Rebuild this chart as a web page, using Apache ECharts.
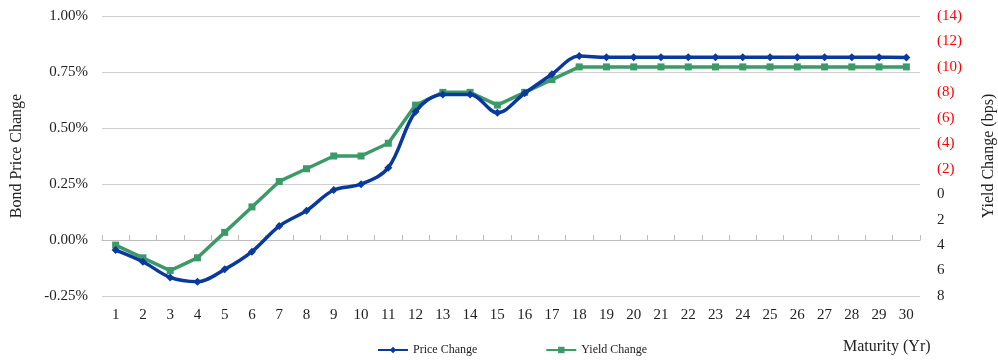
<!DOCTYPE html>
<html>
<head>
<meta charset="utf-8">
<script src="https://cdn.jsdelivr.net/npm/echarts@6/dist/echarts.min.js"></script>
<style>
  html, body { margin: 0; padding: 0; background: #fff; }
  #chart { width: 998px; height: 360px; }
</style>
</head>
<body>
<div id="chart"></div>
<script>
// Maturities (years)
const maturities = ['1','2','3','4','5','6','7','8','9','10','11','12','13','14','15','16','17','18','19','20','21','22','23','24','25','26','27','28','29','30'];

// Bond price change, in percent
const priceChange = [-0.045, -0.097, -0.167, -0.186, -0.131, -0.052, 0.062, 0.131, 0.223, 0.249, 0.323,
  0.573, 0.650, 0.650, 0.568, 0.655, 0.740, 0.821, 0.816, 0.816, 0.816, 0.816, 0.816, 0.816, 0.816,
  0.816, 0.816, 0.816, 0.816, 0.815];

// Yield change, in basis points (negative = yield down)
const yieldChange = [4, 5, 6, 5, 3, 1, -1, -2, -3, -3, -4, -7, -8, -8, -7, -8, -9, -10, -10, -10,
  -10, -10, -10, -10, -10, -10, -10, -10, -10, -10];

// Axis settings
const priceAxis = { min: -0.25, max: 1.0, step: 0.25 };
const yieldAxis = { min: -14, max: 8, step: 2 };

const FONT = '"Liberation Serif", "DejaVu Serif", serif';
const BLUE = '#0a399e';
const GREEN = '#3b9a68';
const GRID_GREY = '#cfcfcf';

const chart = echarts.init(document.getElementById('chart'), null, { renderer: 'canvas' });

chart.setOption({
  animation: false,
  backgroundColor: '#ffffff',
  textStyle: { fontFamily: FONT },
  grid: { left: 102, right: 78, top: 16, bottom: 64, containLabel: false, outerBoundsMode: 'none' },
  legend: {
    left: 372,
    top: 339,
    itemWidth: 30,
    itemHeight: 8,
    itemGap: 68,
    textStyle: { fontFamily: FONT, fontSize: 12, color: '#222' },
    data: ['Price Change', 'Yield Change']
  },
  graphic: [{
    type: 'text',
    left: 843,
    top: 339,
    style: { text: 'Maturity (Yr)', font: '16px ' + FONT, fill: '#222' }
  }],
  xAxis: [
    {
      type: 'category',
      data: maturities,
      position: 'bottom',
      axisLine: { show: false },
      axisTick: { show: false },
      axisLabel: { fontFamily: FONT, fontSize: 15, color: '#222', margin: 12 }
    },
    {
      type: 'category',
      data: maturities,
      position: 'bottom',
      axisLine: { show: true, onZero: true, onZeroAxisIndex: 0, lineStyle: { color: '#bdbdbd', width: 1 } },
      axisTick: { show: true, inside: true, length: 5, lineStyle: { color: '#bdbdbd' } },
      axisLabel: { show: false },
      splitLine: { show: false }
    }
  ],
  yAxis: [
    {
      type: 'value',
      min: priceAxis.min,
      max: priceAxis.max,
      interval: priceAxis.step,
      position: 'left',
      name: 'Bond Price Change',
      nameLocation: 'middle',
      nameRotate: 90,
      nameGap: 77,
      nameTextStyle: { fontFamily: FONT, fontSize: 16, color: '#222' },
      axisLine: { show: false },
      axisTick: { show: false },
      axisLabel: {
        fontFamily: FONT, fontSize: 15, color: '#222', margin: 14,
        formatter: v => v.toFixed(2) + '%'
      },
      splitLine: { show: true, lineStyle: { color: GRID_GREY, width: 1 } }
    },
    {
      type: 'value',
      min: yieldAxis.min,
      max: yieldAxis.max,
      interval: yieldAxis.step,
      inverse: true,
      position: 'right',
      name: 'Yield Change (bps)',
      nameLocation: 'middle',
      nameRotate: 90,
      nameGap: 61,
      nameTextStyle: { fontFamily: FONT, fontSize: 16, color: '#222' },
      axisLine: { show: false },
      axisTick: { show: false },
      splitLine: { show: false },
      axisLabel: {
        fontFamily: FONT, fontSize: 15, color: '#222', margin: 17,
        formatter: v => v < 0 ? '{neg|(' + (-v) + ')}' : String(v),
        rich: { neg: { color: '#ff0000', fontFamily: FONT, fontSize: 15 } }
      }
    }
  ],
  series: [
    {
      name: 'Price Change',
      type: 'line',
      xAxisIndex: 0,
      yAxisIndex: 0,
      data: priceChange,
      smooth: 0.35,
      symbol: 'diamond',
      symbolSize: 8,
      z: 3,
      itemStyle: { color: BLUE },
      lineStyle: { color: BLUE, width: 3.5 }
    },
    {
      name: 'Yield Change',
      type: 'line',
      xAxisIndex: 0,
      yAxisIndex: 1,
      data: yieldChange,
      smooth: false,
      symbol: 'rect',
      symbolSize: 7,
      z: 2,
      itemStyle: { color: GREEN },
      lineStyle: { color: GREEN, width: 3.5 }
    }
  ]
});
</script>
</body>
</html>
